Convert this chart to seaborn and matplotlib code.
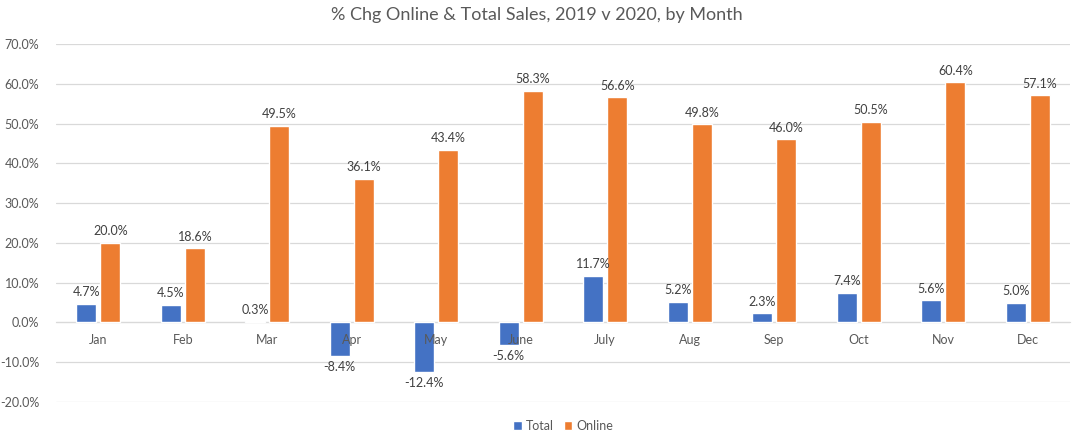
import pandas as pd
import numpy as np
import matplotlib.pyplot as plt
import seaborn as sns
from matplotlib.ticker import FuncFormatter

months = ['Jan', 'Feb', 'Mar', 'Apr', 'May', 'June', 'July', 'Aug', 'Sep', 'Oct', 'Nov', 'Dec']
total = [4.7, 4.5, 0.3, -8.4, -12.4, -5.6, 11.7, 5.2, 2.3, 7.4, 5.6, 5.0]
online = [20.0, 18.6, 49.5, 36.1, 43.4, 58.3, 56.6, 49.8, 46.0, 50.5, 60.4, 57.1]
series = ['Total', 'Online']
cores = ['#4472C4', '#ED7D31']

df = pd.DataFrame({'mes': months * 2,
                   'serie': ['Total'] * 12 + ['Online'] * 12,
                   'valor': total + online})

sns.set_style('white')
plt.rcParams['font.family'] = ['Lato', 'DejaVu Sans']

fig = plt.figure(figsize=(10.74, 4.37), dpi=100)
ax = fig.add_axes([56 / 1074, 35 / 437, 1014 / 1074, 358 / 437])

sns.barplot(data=df, x='mes', y='valor', hue='serie', hue_order=series,
            palette=cores, width=0.57, gap=0.18, saturation=1, ax=ax)

for cont in ax.containers:
    ax.bar_label(cont, fmt='%.1f%%', padding=4, fontsize=9, color='#404040')

ax.set_ylim(-20, 70)
ax.set_yticks(np.arange(-20, 71, 10))
ax.yaxis.set_major_formatter(FuncFormatter(lambda v, p: '%.1f%%' % v))
ax.grid(True, axis='y', color='#d9d9d9', linewidth=0.9)
ax.set_axisbelow(True)
ax.xaxis.set_zorder(5)  # nomes dos meses por cima das barras, como no Excel
ax.set_xlim(-0.5, 11.5)

for s in ['top', 'right', 'left']:
    ax.spines[s].set_visible(False)
ax.spines['bottom'].set_position(('data', 0))
ax.spines['bottom'].set_color('#d9d9d9')
ax.spines['bottom'].set_zorder(0.5)
ax.tick_params(axis='both', length=0, labelsize=9, labelcolor='#595959')
ax.tick_params(axis='x', pad=8)
ax.tick_params(axis='y', pad=12)
ax.set_xlabel('')
ax.set_ylabel('')

fig.suptitle('% Chg Online & Total Sales, 2019 v 2020, by Month', fontsize=13,
             color='#595959', y=0.985)

ax.legend(loc='lower center', bbox_to_anchor=(0.5, -0.115), ncol=2, frameon=False,
          fontsize=9, labelcolor='#595959', handlelength=0.7, handleheight=0.7,
          handletextpad=0.3, columnspacing=0.8)

fig.savefig('out.png', dpi=100)
